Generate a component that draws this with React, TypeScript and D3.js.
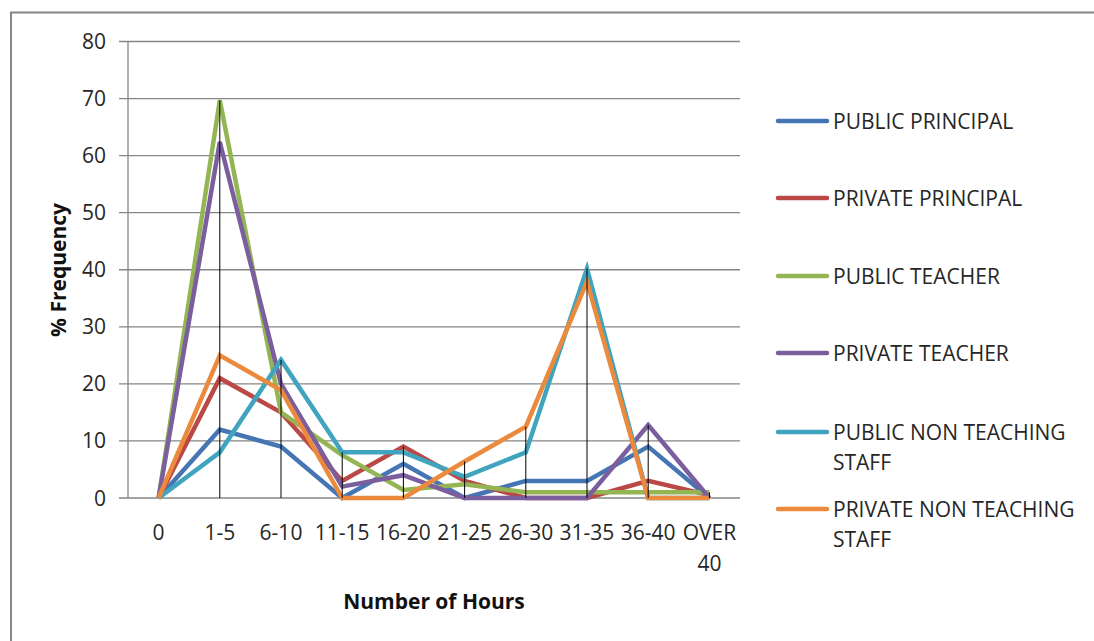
import React from "react";
import * as d3 from "d3";

const categories = ["0", "1-5", "6-10", "11-15", "16-20", "21-25", "26-30", "31-35", "36-40", "OVER 40"];

const publicPrincipal = [0, 12, 9, 0, 6, 0, 3, 3, 9, 0];
const privatePrincipal = [0, 21, 15, 3, 9, 3, 0, 0, 3, 0.5];
const publicTeacher = [0, 69.7, 15, 7.5, 1.4, 2.4, 1, 1, 1, 1];
const privateTeacher = [0, 62.4, 20, 2, 4, 0, 0, 0, 12.8, 0];
const publicNonTeaching = [0, 8, 24.2, 8, 8, 3.7, 8, 40.2, 0, 0];
const privateNonTeaching = [0, 25, 18.9, 0, 0, 6.4, 12.5, 37.9, 0, 0];

const seriesNames = [
  "PUBLIC PRINCIPAL",
  "PRIVATE PRINCIPAL",
  "PUBLIC TEACHER",
  "PRIVATE TEACHER",
  "PUBLIC NON TEACHING STAFF",
  "PRIVATE NON TEACHING STAFF",
];
const seriesValues = [
  publicPrincipal,
  privatePrincipal,
  publicTeacher,
  privateTeacher,
  publicNonTeaching,
  privateNonTeaching,
];
const seriesColors = ["#4675B3", "#BA4845", "#93B553", "#7A5E9E", "#40A4BF", "#EB8A3C"];
const legendLines = [
  ["PUBLIC PRINCIPAL"],
  ["PRIVATE PRINCIPAL"],
  ["PUBLIC TEACHER"],
  ["PRIVATE TEACHER"],
  ["PUBLIC NON TEACHING", "STAFF"],
  ["PRIVATE NON TEACHING", "STAFF"],
];

const yTicks = [0, 10, 20, 30, 40, 50, 60, 70, 80];

const W = 1094;
const H = 641;
const plot = { left: 128, right: 740, top: 41.5, bottom: 498 };
const FONT = "'Open Sans', 'DejaVu Sans', sans-serif";
const GRID = "#868686";

export default function App() {
  const x = d3.scaleBand<string>().domain(categories).range([plot.left, plot.right]);
  const cx = (c: string) => (x(c) as number) + x.bandwidth() / 2;
  const y = d3.scaleLinear().domain([0, 80]).range([plot.bottom, plot.top]);

  const line = d3
    .line<number>()
    .x((_, i) => cx(categories[i]))
    .y((v) => y(v));

  const maxes = categories.map((_, i) => d3.max(seriesValues, (s) => s[i]) as number);

  const legendY = [121, 198, 276, 353, 432, 509];

  return (
    <svg
      width={W}
      height={H}
      style={{ position: "fixed", left: 0, top: 0, display: "block", background: "#fff" }}
      fontFamily={FONT}
    >
      <rect x={0} y={0} width={W} height={H} fill="#fff" />
      <rect x={11} y={12.5} width={W + 20} height={H + 20} fill="none" stroke={GRID} strokeWidth={2} />

      {/* horizontal gridlines and y ticks */}
      {yTicks.map((t) => (
        <g key={t}>
          <line x1={plot.left - 9} x2={plot.right} y1={y(t)} y2={y(t)} stroke={GRID} strokeWidth={1.3} />
          <text x={106} y={y(t)} dy="0.36em" textAnchor="end" fontSize={21} fill="#262626">
            {t}
          </text>
        </g>
      ))}
      <line x1={plot.left} x2={plot.left} y1={plot.top} y2={plot.bottom} stroke={GRID} strokeWidth={1.3} />

      {/* category labels */}
      {categories.map((c) => {
        const parts = c === "OVER 40" ? ["OVER", "40"] : [c];
        return (
          <text key={c} x={cx(c)} y={540} textAnchor="middle" fontSize={21} fill="#262626">
            {parts.map((p, i) => (
              <tspan key={i} x={cx(c)} dy={i === 0 ? 0 : 31}>
                {p}
              </tspan>
            ))}
          </text>
        );
      })}

      {/* series lines */}
      {seriesValues.map((s, i) => (
        <path
          key={seriesNames[i]}
          d={line(s) as string}
          fill="none"
          stroke={seriesColors[i]}
          strokeWidth={4.5}
          strokeLinejoin="miter"
        />
      ))}

      {/* drop lines from the highest point in each category */}
      {categories.map((c, i) =>
        maxes[i] > 0 ? (
          <line key={c} x1={cx(c)} x2={cx(c)} y1={y(maxes[i])} y2={plot.bottom} stroke="#000" strokeWidth={1} />
        ) : null
      )}

      {/* axis titles */}
      <text
        transform={`translate(66, 270) rotate(-90)`}
        textAnchor="middle"
        fontSize={21}
        fontWeight="bold"
        fill="#111"
      >
        % Frequency
      </text>
      <text x={434} y={609} textAnchor="middle" fontSize={21} fontWeight="bold" fill="#111">
        Number of Hours
      </text>

      {/* legend */}
      {seriesNames.map((n, i) => (
        <g key={n}>
          <line
            x1={778}
            x2={827}
            y1={legendY[i]}
            y2={legendY[i]}
            stroke={seriesColors[i]}
            strokeWidth={4.5}
            strokeLinecap="round"
          />
          <text x={833} y={legendY[i] + 8} fontSize={21} fill="#262626">
            {legendLines[i].map((p, j) => (
              <tspan key={j} x={833} dy={j === 0 ? 0 : 30}>
                {p}
              </tspan>
            ))}
          </text>
        </g>
      ))}
    </svg>
  );
}
